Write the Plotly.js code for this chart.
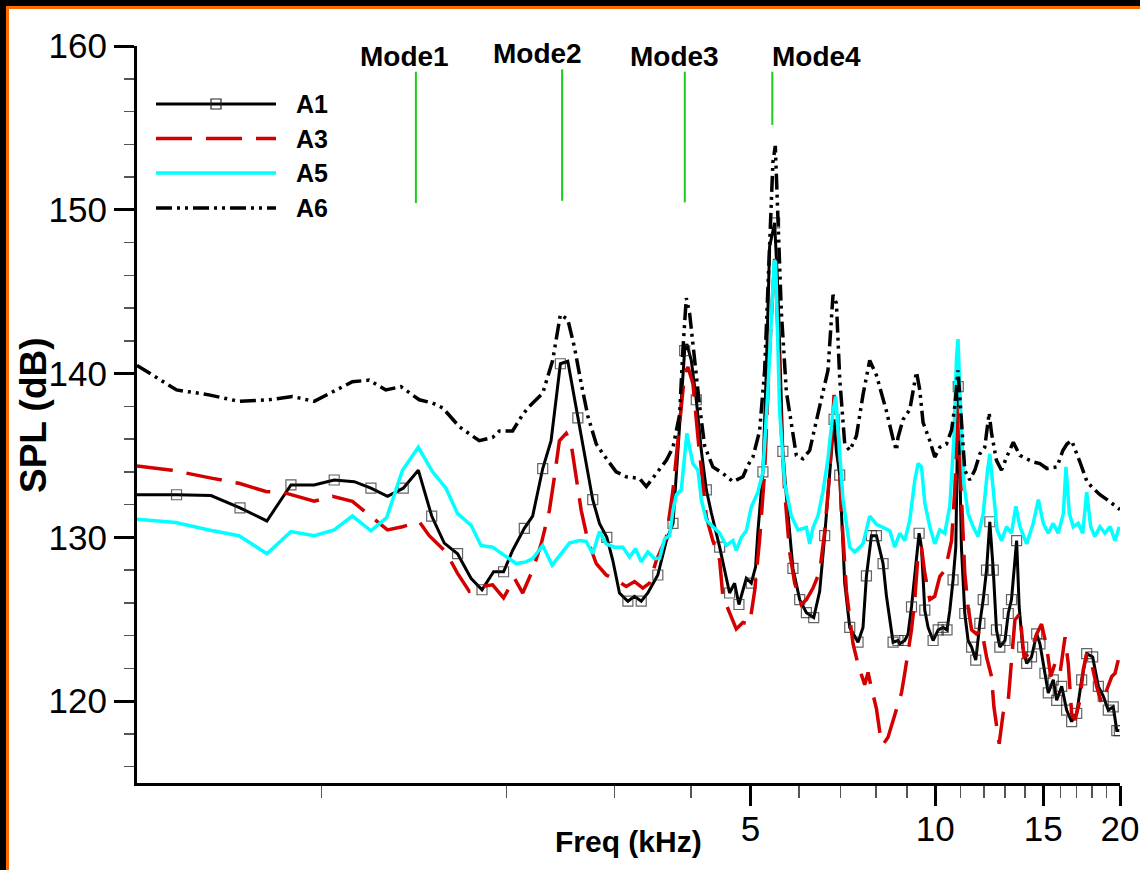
<!DOCTYPE html>
<html><head><meta charset="utf-8">
<script src="https://cdn.plot.ly/plotly-3.0.1.min.js"></script>
<style>
html,body{margin:0;padding:0;background:#fff;}
#chart{width:1140px;height:870px;}
.fr{position:absolute;pointer-events:none;}
</style></head><body>
<div id="chart"></div>
<div class="fr" style="left:0;top:0;width:1140px;height:6px;background:#000"></div>
<div class="fr" style="left:0;top:0;width:6px;height:870px;background:#000"></div>
<div class="fr" style="left:6px;top:6px;width:1134px;height:3px;background:#ff6a00"></div>
<div class="fr" style="left:6px;top:6px;width:3px;height:864px;background:#ff6a00"></div>
<script>
// ---------------- data (frequency in kHz, SPL in dB) ----------------
const a1Freq = [0.50,0.58,0.66,0.736,0.814,0.891,0.972,1.048,1.130,1.203,1.280,1.358,1.437,1.511,1.584,1.665,1.751,1.825,1.906,1.979,
  2.047,2.139,2.207,2.292,2.365,2.410,2.449,2.518,2.566,2.615,2.698,2.765,2.836,2.915,2.981,3.057,3.155,3.235,3.317,3.400,3.530,3.645,3.737,
  3.831,3.904,3.937,4.003,4.078,4.156,4.235,4.315,4.452,4.621,4.709,4.786,4.920,5.013,5.095,5.139,5.237,5.304,5.370,5.472,5.540,5.590,5.644,
  5.718,5.861,6.012,6.165,6.337,6.480,6.603,6.729,6.839,6.900,6.986,7.119,7.254,7.483,7.624,7.723,7.869,8.018,8.220,8.326,8.535,8.695,8.752,
  8.917,9.029,9.146,9.260,9.410,9.495,9.614,9.734,9.918,10.11,10.30,10.45,10.56,10.69,10.80,10.90,11.03,11.17,11.31,11.46,11.64,11.82,11.97,
  12.12,12.27,12.43,12.58,12.74,12.99,13.15,13.31,13.57,13.70,13.88,14.09,14.35,14.63,14.81,15.09,15.28,15.57,15.77,16.07,16.37,16.68,17.00,
  17.32,17.65,18.05,18.44,18.78,19.14,19.50,19.76,19.95];
const a1Spl = [132.6,132.6,132.55,131.8,131.0,133.2,133.2,133.5,133.4,133.0,132.5,133.0,134.1,131.3,129.65,129.0,127.5,126.8,127.9,127.9,
  129.2,130.55,131.3,134.2,135.9,138.4,140.6,140.75,139.0,137.3,134.5,132.3,130.85,130.0,128.6,126.6,126.1,126.4,126.1,126.6,127.7,129.8,130.85,
  136.55,141.4,141.8,140.8,138.4,135.3,132.9,131.5,129.4,126.6,127.2,125.9,127.5,127.2,128.2,130.35,134.0,140.15,147.75,149.2,145.1,140.65,135.25,
  132.55,128.1,126.2,125.4,125.1,126.7,130.1,134.0,137.2,135.25,133.8,127.2,124.5,123.6,124.5,127.65,130.1,130.1,128.4,126.4,123.6,123.7,123.5,
  123.7,124.1,125.75,127.8,130.25,129.4,125.55,124.5,123.7,124.35,124.5,124.35,125.55,127.4,129.4,139.2,129.4,125.35,123.7,123.3,122.5,124.75,126.2,
  128.0,130.95,128.0,124.35,123.3,123.7,125.35,126.2,129.8,125.75,123.3,122.3,122.7,124.1,123.5,121.7,120.5,121.3,120.05,120.9,119.45,118.75,119.25,
  121.3,122.9,122.7,120.9,120.3,119.45,119.65,118.2,118.2];

const a3Freq = [0.50,0.570,0.664,0.733,0.811,0.874,0.972,1.041,1.122,1.210,1.280,1.354,1.442,1.497,1.594,1.665,1.740,1.818,1.899,1.979,
  2.061,2.126,2.207,2.279,2.350,2.395,2.440,2.503,2.550,2.598,2.648,2.715,2.802,2.908,3.019,3.135,3.235,3.337,3.422,3.511,3.645,3.737,3.831,
  3.904,3.952,4.027,4.104,4.181,4.235,4.340,4.452,4.506,4.621,4.739,4.859,4.982,5.076,5.172,5.271,5.370,5.472,5.540,5.611,5.682,5.789,5.900,
  6.049,6.165,6.320,6.480,6.603,6.729,6.839,6.942,7.031,7.165,7.344,7.483,7.674,7.770,7.869,8.018,8.120,8.220,8.375,8.535,8.695,8.808,8.917,
  9.029,9.146,9.260,9.374,9.495,9.614,9.795,9.98,10.17,10.36,10.49,10.63,10.76,10.89,11.00,11.17,11.31,11.46,11.67,11.90,12.12,12.35,12.46,
  12.58,12.71,12.90,13.15,13.26,13.48,13.74,13.95,14.27,14.63,14.90,15.19,15.42,15.67,15.97,16.27,16.47,16.68,16.89,17.21,17.42,17.65,17.98,
  18.32,18.67,19.02,19.39,19.63,19.87];
const a3Spl = [134.35,134.1,133.6,133.3,132.8,132.7,132.2,132.5,132.2,131.2,130.45,130.65,130.95,130.1,129.1,127.8,126.7,127.0,127.1,126.3,
  127.5,126.6,128.0,129.6,131.65,133.7,135.9,136.35,135.7,133.7,131.65,129.8,128.4,127.7,127.4,127.0,127.3,126.9,127.2,128.6,130.0,132.9,136.95,
  140.0,140.4,139.4,136.1,132.9,131.25,129.8,128.6,126.4,125.35,124.4,124.8,124.7,126.7,129.85,134.0,141.4,147.0,142.6,136.5,132.8,129.1,127.2,
  125.9,126.2,126.9,127.9,130.35,134.0,138.7,136.7,131.6,126.7,123.5,122.25,121.0,121.75,120.8,119.55,118.1,117.35,117.8,118.8,119.8,120.5,121.7,
  122.9,124.35,126.2,129.0,129.4,127.8,126.2,126.4,127.6,128.0,128.8,129.8,132.9,137.95,133.5,127.8,125.75,124.35,124.1,124.35,122.7,121.5,119.65,
  118.6,117.4,119.25,120.05,121.7,124.95,125.35,122.7,122.9,124.1,124.7,123.3,121.5,122.3,121.7,123.9,122.3,119.25,118.85,120.05,121.9,122.9,122.3,
  120.9,119.85,120.7,121.5,121.7,122.5];

const a5Freq = [0.50,0.578,0.655,0.733,0.814,0.891,0.972,1.048,1.122,1.203,1.276,1.354,1.437,1.516,1.594,1.665,1.751,1.818,1.899,1.984,
  2.074,2.153,2.207,2.292,2.374,2.534,2.631,2.698,2.765,2.836,2.908,3.000,3.096,3.175,3.247,3.317,3.400,3.486,3.553,3.621,3.690,3.737,3.784,
  3.855,3.904,3.937,3.977,4.027,4.104,4.156,4.235,4.340,4.452,4.565,4.680,4.739,4.830,4.920,5.013,5.139,5.237,5.336,5.405,5.462,5.493,5.576,
  5.682,5.826,5.974,6.165,6.241,6.320,6.438,6.561,6.685,6.813,6.882,6.968,7.073,7.254,7.391,7.624,7.818,8.018,8.220,8.430,8.588,8.752,8.917,
  9.087,9.260,9.374,9.495,9.614,9.795,9.98,10.17,10.36,10.56,10.72,10.83,10.89,10.99,11.13,11.31,11.527,11.74,11.97,12.15,12.27,12.43,12.61,
  12.82,13.07,13.31,13.53,13.74,14.09,14.44,14.72,15.00,15.28,15.57,15.86,16.17,16.33,16.54,16.78,17.10,17.39,17.65,17.92,18.20,18.55,18.90,
  19.27,19.63,19.95];
const a5Spl = [131.1,130.9,130.45,130.1,129.0,130.35,130.1,130.45,131.3,130.4,131.2,134.1,135.5,134.0,133.0,131.45,130.75,129.5,129.4,128.9,
  128.4,128.5,128.7,129.5,128.3,129.65,129.8,129.75,129.0,130.35,129.6,129.4,129.4,128.8,129.3,128.5,129.1,128.7,128.7,129.9,130.1,131.65,132.6,
  132.9,134.9,136.35,135.5,134.5,134.1,132.3,131.05,130.65,130.25,129.5,129.8,129.2,130.0,130.4,131.85,132.75,134.0,139.0,143.5,146.9,146.8,137.7,
  133.3,131.3,130.45,130.6,129.6,130.6,131.3,132.8,134.8,137.7,138.6,135.7,132.3,129.4,129.1,129.6,131.3,130.8,130.6,130.4,129.4,130.25,129.8,
  131.05,133.5,134.5,134.3,132.1,130.65,129.6,130.45,130.25,131.9,135.95,141.0,142.1,138.0,133.3,131.45,130.65,130.05,131.45,133.9,135.1,132.9,130.45,
  129.8,130.65,130.25,131.9,130.65,129.6,130.85,132.3,130.85,130.25,130.85,130.25,131.45,134.3,131.45,130.65,130.85,130.25,132.75,130.65,130.05,130.65,130.25,
  130.65,129.8,130.65];

const a6Freq = [0.50,0.58,0.655,0.733,0.821,0.896,0.972,1.041,1.122,1.195,1.272,1.346,1.442,1.516,1.575,1.676,1.806,1.899,1.948,2.047,
  2.126,2.180,2.292,2.379,2.449,2.518,2.582,2.648,2.715,2.802,2.872,3.019,3.135,3.296,3.381,3.511,3.645,3.737,3.831,3.879,3.928,3.977,4.053,
  4.130,4.207,4.340,4.506,4.680,4.859,4.950,5.044,5.172,5.271,5.370,5.437,5.486,5.540,5.611,5.718,5.826,5.937,6.085,6.241,6.480,6.685,6.813,
  6.900,6.986,7.119,7.254,7.439,7.624,7.818,8.018,8.326,8.535,8.643,8.695,8.862,9.087,9.318,9.434,9.552,9.795,9.98,10.17,10.43,10.63,10.76,
  10.89,11.03,11.17,11.38,11.60,11.82,12.04,12.24,12.35,12.58,12.82,13.07,13.40,13.74,14.10,14.44,14.81,15.20,15.79,16.14,16.39,16.68,17.21,
  17.67,18.07,18.55,19.05,19.48,20.0];
const a6Spl = [140.5,139.0,138.7,138.3,138.4,138.6,138.3,138.9,139.5,139.6,139.0,139.2,138.4,138.2,137.9,136.75,135.9,136.1,136.5,136.5,
  137.5,138.0,138.8,140.8,143.6,143.3,141.6,139.4,137.4,135.7,135.1,134.0,133.7,133.6,133.1,133.9,134.7,135.5,137.5,141.5,144.6,143.7,140.7,
  138.0,135.6,134.3,133.9,133.4,133.7,134.4,134.9,136.5,140.2,147.5,152.9,153.9,150.0,143.8,138.9,137.0,135.0,134.8,135.3,138.0,140.2,144.8,
  144.3,139.7,135.7,135.3,136.2,138.7,140.8,139.9,137.7,136.0,135.3,136.1,137.2,137.8,140.1,139.0,137.0,135.9,134.9,135.5,135.7,136.55,138.0,
  140.2,137.0,134.1,133.5,134.1,135.1,135.5,137.6,136.35,134.7,134.1,134.9,135.8,135.0,134.8,134.6,134.5,134.2,134.3,135.3,135.7,135.9,134.6,
  133.4,133.0,132.6,132.3,132.0,131.7];

const seriesNames = ['A1','A3','A5','A6'];

// mode markers (kHz) and the SPL span of each marker line
const modeNames = ['Mode1','Mode2','Mode3','Mode4'];
const modeFreq = [1.424,2.465,3.906,5.425];
const modeTop = [158.43,158.58,158.43,158.43];
const modeBottom = [150.41,150.55,150.45,155.18];

// axis ticks and titles
const yMajorTicks = [120,130,140,150,160];
const xMajorTicks = [5,10,15,20];
const xMinorTicks = [1,2,3,4,6,7,8,9,11,12,13,14,16,17,18,19];
const xTitle = 'Freq (kHz)';
const yTitle = 'SPL (dB)';

// ---------------- styles ----------------
const FONT = 'Liberation Sans, Arial, Helvetica, sans-serif';
const C_A1 = '#000000', C_A3 = '#d40000', C_A5 = '#00ffff', C_A6 = '#000000', C_MODE = '#1ccc1c';
const DASH_A3 = '36px,14px';
const DASH_A6 = '16px,5px,3px,5px,3px,5px';
const modeLabelShift = [-11,-25,-10,44];

// marker only on points spaced at least ~0.15 kHz apart (like a marker skip)
const a1MarkerSize = [];
let lastMarked = -1;
a1Freq.forEach(f => {
  if (f >= 0.55 && (lastMarked < 0 || f - lastMarked >= 0.145)) { a1MarkerSize.push(10); lastMarked = f; }
  else a1MarkerSize.push(0);
});

const modeX = [], modeY = [];
modeFreq.forEach((f,i) => { modeX.push(f,f,null); modeY.push(modeBottom[i], modeTop[i], null); });

const traces = [
  {x: modeX, y: modeY, type:'scatter', mode:'lines', line:{color:C_MODE, width:2}, hoverinfo:'skip', showlegend:false},
  {x: a1Freq, y: a1Spl, name: seriesNames[0], type:'scatter', mode:'lines+markers',
   line:{color:C_A1, width:3}, marker:{symbol:'square-open', size:a1MarkerSize, color:'#222', line:{width:1.2, color:'#222'}}},
  {x: a3Freq, y: a3Spl, name: seriesNames[1], type:'scatter', mode:'lines', line:{color:C_A3, width:3.5, dash:DASH_A3}},
  {x: a5Freq, y: a5Spl, name: seriesNames[2], type:'scatter', mode:'lines', line:{color:C_A5, width:3.5}},
  {x: a6Freq, y: a6Spl, name: seriesNames[3], type:'scatter', mode:'lines', line:{color:C_A6, width:3.5, dash:DASH_A6}}
];

// plot-area pixel helpers for the hand-drawn legend and titles (layout only)
const L = 137, R = 20, T = 46, B = 87, W = 1140, H = 870;
const pw = W - L - R, ph = H - T - B;
const px = x => (x - L) / pw;
const py = y => 1 - (y - T) / ph;

const legendRows = [104, 138.5, 173, 208];
const legendStyles = [
  {color:C_A1, width:3, dash:'solid'},
  {color:C_A3, width:3.5, dash:DASH_A3},
  {color:C_A5, width:3.5, dash:'solid'},
  {color:C_A6, width:3.5, dash:DASH_A6}
];
const shapes = [];
const annotations = [];
legendRows.forEach((yy, i) => {
  shapes.push({type:'line', xref:'paper', yref:'paper', x0:px(156), x1:px(276), y0:py(yy), y1:py(yy), line:legendStyles[i]});
  annotations.push({xref:'paper', yref:'paper', x:px(294), y:py(yy), xanchor:'left', yanchor:'middle', showarrow:false,
    text:'<b>'+seriesNames[i]+'</b>', font:{family:FONT, size:25, color:'#000'}});
});
shapes.push({type:'rect', xref:'paper', yref:'paper', x0:px(211), x1:px(221), y0:py(legendRows[0]-5), y1:py(legendRows[0]+5),
  line:{color:'#222', width:1.2}, fillcolor:'rgba(0,0,0,0)'});

modeNames.forEach((m,i) => {
  annotations.push({x: Math.log10(modeFreq[i]), y: modeTop[i], xref:'x', yref:'y', xanchor:'center', yanchor:'bottom',
    xshift: modeLabelShift[i], yshift: -2, showarrow:false, text:'<b>'+m+'</b>', font:{family:FONT, size:28, color:'#000'}});
});

// axis titles
annotations.push({xref:'paper', yref:'paper', x:px(628), y:py(841), xanchor:'center', yanchor:'middle', showarrow:false,
  text:'<b>'+xTitle+'</b>', font:{family:FONT, size:30, color:'#000'}});
annotations.push({xref:'paper', yref:'paper', x:px(33), y:py(415), xanchor:'center', yanchor:'middle', showarrow:false,
  textangle:-90, text:'<b>'+yTitle+'</b>', font:{family:FONT, size:37, color:'#000'}});

const layout = {
  width: W, height: H,
  margin: {l:L, r:R, t:T, b:B, pad:0},
  paper_bgcolor:'#ffffff', plot_bgcolor:'#ffffff',
  showlegend:false,
  xaxis: {
    type:'log', range:[Math.log10(0.5), Math.log10(20)],
    tickmode:'array', tickvals:xMajorTicks, ticktext:xMajorTicks.map(String),
    ticks:'outside', ticklen:20, tickwidth:3, tickcolor:'#000', ticklabelstandoff:-7,
    showline:true, linewidth:3, linecolor:'#000', showgrid:false, zeroline:false, mirror:false,
    tickfont:{family:FONT, size:35, color:'#000'},
    minor:{tickmode:'array', tickvals:xMinorTicks, ticks:'outside', ticklen:12, tickwidth:1.5, tickcolor:'#555', showgrid:false}
  },
  yaxis: {
    range:[115,160],
    tickmode:'array', tickvals:yMajorTicks, ticktext:yMajorTicks.map(String),
    ticks:'outside', ticklen:20, tickwidth:3, tickcolor:'#000',
    showline:true, linewidth:3, linecolor:'#000', showgrid:false, zeroline:false, mirror:false,
    tickfont:{family:FONT, size:35, color:'#000'},
    minor:{tickmode:'linear', tick0:116, dtick:2, ticks:'outside', ticklen:10, tickwidth:1.5, tickcolor:'#555', showgrid:false}
  },
  shapes: shapes,
  annotations: annotations
};

Plotly.newPlot('chart', traces, layout, {displayModeBar:false, staticPlot:true});
</script>
</body></html>
